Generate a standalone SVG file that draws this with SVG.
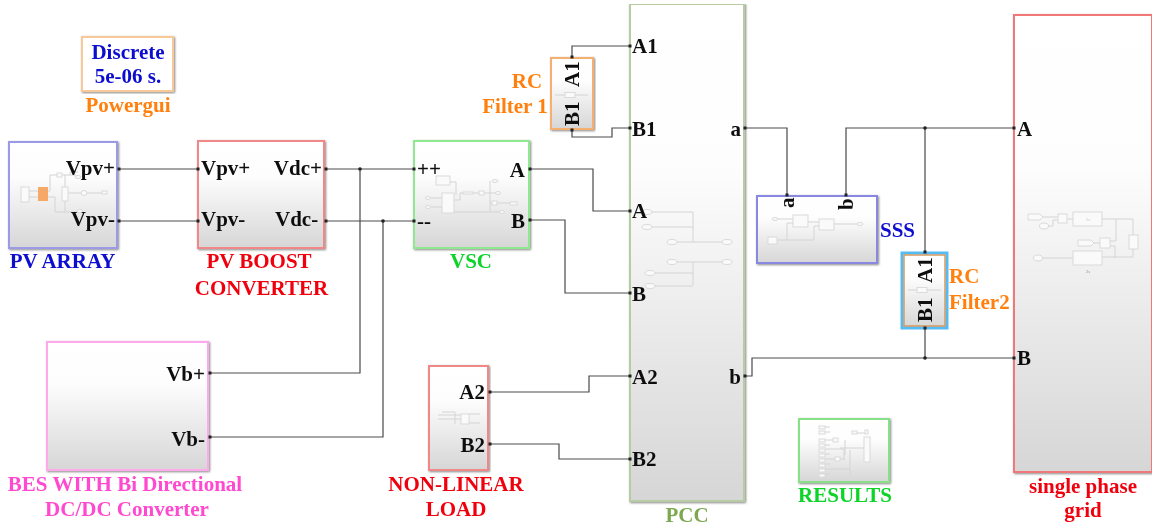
<svg xmlns="http://www.w3.org/2000/svg" width="1157" height="530" viewBox="0 0 1157 530">
<style>
text{font-family:"Liberation Serif","Times New Roman",serif;font-weight:700;font-size:21px}
.p{fill:#111}
.m{text-anchor:middle}
.e{text-anchor:end}
.b{fill:url(#g);stroke-width:2;filter:url(#s)}
.c{fill:none;stroke:#4a4a4a;stroke-width:1.2;marker-start:url(#port);marker-end:url(#port)}
.ic{fill:#fafafa;stroke:#dadada;stroke-width:1}
.il{fill:none;stroke:#d4d4d4;stroke-width:1}
.blue{fill:#0a0ad0}.red{fill:#f00010}.green{fill:#08d428}.orange{fill:#ff8010}.pink{fill:#ff48d0}
</style>
<defs>
<linearGradient id="g" x1="0" y1="0" x2="0" y2="1"><stop offset="0" stop-color="#fff"/><stop offset=".33" stop-color="#fdfdfd"/><stop offset="1" stop-color="#d6d6d6"/></linearGradient>
<filter id="s" x="-5%" y="-5%" width="110%" height="110%"><feDropShadow dx="1" dy="1" stdDeviation=".8" flood-color="#555" flood-opacity=".7"/></filter>
<filter id="soft" x="0" y="0" width="100%" height="100%"><feGaussianBlur stdDeviation=".35"/></filter>
<marker id="port" markerUnits="userSpaceOnUse" markerWidth="5" markerHeight="5" refX="2.5" refY="2.5"><rect width="3" height="3" x="1" y="1" fill="#222"/></marker>
</defs>
<rect width="1157" height="530" fill="#fff"/>
<g filter="url(#soft)">
<g id="powergui">
<rect x="82" y="37" width="91" height="54" fill="#fff" stroke="#f8c898" stroke-width="2" filter="url(#s)"/>
<text class="m blue" x="128" y="59">Discrete</text>
<text class="m blue" x="128" y="83">5e-06 s.</text>
<text class="m orange" x="128" y="112">Powergui</text>
</g>
<g id="pv-array">
<rect class="b" x="9" y="142" width="108" height="106" stroke="#9a9ae8"/>
<rect class="ic" x="21" y="187" width="8" height="15"/>
<path class="il" d="M29 191H38M29 197H38M48 191H50V175H57M62 175H76M48 197H55V212H82M65 175V212M68 193H82M87 193H102M70 175V172H78"/>
<rect x="38" y="187" width="10" height="14" fill="#f6a868"/>
<rect class="ic" x="57" y="173" width="5" height="4"/>
<rect class="ic" x="62" y="187" width="6" height="14"/>
<ellipse class="ic" cx="84" cy="193" rx="3" ry="2.5"/>
<rect class="ic" x="102" y="191" width="5" height="3"/>
<ellipse class="ic" cx="78" cy="177" rx="3" ry="1.5"/>
<ellipse class="ic" cx="80" cy="211" rx="3" ry="1.5"/>
<text class="p e" x="115" y="175">Vpv+</text>
<text class="p e" x="115" y="226">Vpv-</text>
<text class="m blue" x="62.500" y="268">PV ARRAY</text>
</g>
<g id="pv-boost-converter">
<rect class="b" x="198" y="141" width="126" height="107" stroke="#f08888"/>
<text class="p" x="201" y="175">Vpv+</text>
<text class="p" x="201" y="226">Vpv-</text>
<text class="p e" x="322" y="175">Vdc+</text>
<text class="p" x="275" y="226">Vdc-</text>
<text class="m red" x="259" y="268">PV BOOST</text>
<text class="m red" x="261.500" y="295">CONVERTER</text>
</g>
<g id="vsc">
<rect class="b" x="414" y="141" width="115" height="107" stroke="#90e890"/>
<rect class="ic" x="436" y="176" width="14" height="9"/>
<rect class="ic" x="442" y="193" width="12" height="20"/>
<path class="il" d="M431 198H442M431 207H442M450 182H456V195M454 200H460V193H463M473 193H479M484 193H497M490 181V212M454 212H500M490 203H492M497 203H510"/>
<ellipse class="ic" cx="428" cy="198" rx="2.500" ry="1.500"/>
<ellipse class="ic" cx="428" cy="207" rx="2.500" ry="1.500"/>
<rect class="ic" x="463" y="192" width="10" height="2"/>
<rect class="ic" x="479" y="191" width="5" height="4"/>
<ellipse class="ic" cx="495" cy="181" rx="3" ry="1.500"/>
<ellipse class="ic" cx="498" cy="193" rx="2.500" ry="1.500"/>
<rect class="ic" x="492" y="201" width="5" height="4"/>
<rect class="ic" x="510" y="202" width="7" height="3"/>
<ellipse class="ic" cx="502" cy="212" rx="2.500" ry="1.500"/>
<text class="p" x="417" y="176">++</text>
<text class="p" x="417" y="228">--</text>
<text class="p e" x="525" y="177">A</text>
<text class="p e" x="525" y="228">B</text>
<text class="m green" x="471" y="268">VSC</text>
</g>
<g id="rc-filter-1">
<rect class="b" x="551" y="58" width="42" height="71" stroke="#f5b070"/>
<path class="il" d="M555 95H565M575 95H588"/>
<rect class="ic" x="565" y="92.500" width="10" height="5"/>
<text class="p" transform="translate(579 87) rotate(-90)">A1</text>
<text class="p" transform="translate(579 126) rotate(-90)">B1</text>
<text class="m orange" x="527" y="88">RC</text>
<text class="m orange" x="515" y="113">Filter 1</text>
</g>
<g id="pcc">
<rect class="b" x="630" y="4" width="114" height="497" stroke="#b8cca4"/>
<path class="il" d="M651 212H693V242M652 227H693M677 242H723M677 262H723M693 262V285M654 273H693M654 286H693"/>
<ellipse class="ic" cx="647" cy="212" rx="5" ry="2.500"/>
<ellipse class="ic" cx="647" cy="227" rx="5" ry="2.500"/>
<ellipse class="ic" cx="672" cy="242" rx="5" ry="2.500"/>
<ellipse class="ic" cx="727" cy="242" rx="5" ry="2.500"/>
<ellipse class="ic" cx="672" cy="262" rx="5" ry="2.500"/>
<ellipse class="ic" cx="727" cy="262" rx="5" ry="2.500"/>
<ellipse class="ic" cx="650" cy="273" rx="5" ry="2.500"/>
<ellipse class="ic" cx="650" cy="286" rx="5" ry="2.500"/>
<text class="p" x="632" y="53">A1</text>
<text class="p" x="632" y="136">B1</text>
<text class="p" x="632" y="218">A</text>
<text class="p" x="632" y="301">B</text>
<text class="p" x="632" y="384">A2</text>
<text class="p" x="632" y="466">B2</text>
<text class="p e" x="741" y="136">a</text>
<text class="p e" x="741" y="384">b</text>
<text class="m" x="687" y="522" style="fill:#7da84f">PCC</text>
</g>
<g id="sss">
<rect class="b" x="757" y="196" width="120" height="67" stroke="#8888e0"/>
<path class="il" d="M778 219H793M808 222H819M834 224H857M777 240H814V226H819M787 240V223H793"/>
<ellipse class="ic" cx="775" cy="219" rx="3" ry="1.500"/>
<rect class="ic" x="793" y="215" width="15" height="12"/>
<rect class="ic" x="819" y="219" width="15" height="11"/>
<ellipse class="ic" cx="860" cy="224" rx="3" ry="1.500"/>
<rect class="ic" x="768" y="237" width="9" height="7"/>
<text class="p" transform="translate(794 208) rotate(-90)">a</text>
<text class="p" transform="translate(853 210) rotate(-90)">b</text>
<text class="blue" x="880" y="237">SSS</text>
</g>
<g id="rc-filter-2">
<rect x="902" y="253" width="45" height="75" fill="url(#g)" stroke="#55bbf5" stroke-width="3"/>
<rect x="904" y="255" width="41" height="71" fill="none" stroke="#d29a60" stroke-width="1.500"/>
<path class="il" d="M908 290H917M927 290H941"/>
<rect class="ic" x="917" y="287.500" width="10" height="5"/>
<text class="p" transform="translate(932 283) rotate(-90)">A1</text>
<text class="p" transform="translate(932 322) rotate(-90)">B1</text>
<text class="orange" x="949" y="283">RC</text>
<text class="orange" x="949" y="309">Filter2</text>
</g>
<g id="single-phase-grid">
<rect class="b" x="1014" y="15" width="138" height="457" stroke="#f07878"/>
<path class="il" d="M1043 217H1058M1048 226H1053V220H1058M1067 219H1073M1102 219H1133V235M1133 249V257H1102M1042 258H1073M1094 243H1100M1110 241H1116V219M1110 246H1115V258"/>
<path class="ic" d="M1028 214H1040L1043 217L1040 220H1028Z"/>
<ellipse class="ic" cx="1044" cy="226" rx="4.500" ry="3"/>
<rect class="ic" x="1058" y="214" width="9" height="9"/>
<rect class="ic" x="1073" y="212" width="29" height="14"/>
<rect class="ic" x="1129" y="235" width="9" height="14"/>
<rect class="ic" x="1073" y="251" width="29" height="14"/>
<ellipse class="ic" cx="1038" cy="258" rx="4.500" ry="3"/>
<path class="ic" d="M1078 240H1091L1094 243L1091 246H1078Z"/>
<rect class="ic" x="1100" y="238" width="10" height="10"/>
<text class="m" x="1088" y="221" style="font-size:5px;font-weight:400;fill:#ccc">2s</text>
<text class="m" x="1088" y="273" style="font-size:5px;font-weight:400;fill:#999">2s</text>
<text class="p" x="1017" y="136">A</text>
<text class="p" x="1017" y="365">B</text>
<text class="m red" x="1083" y="493">single phase</text>
<text class="m red" x="1083" y="517">grid</text>
</g>
<g id="bes">
<rect class="b" x="47" y="342" width="161" height="128" stroke="#ffa8ec"/>
<text class="p e" x="205" y="381">Vb+</text>
<text class="p e" x="205" y="446">Vb-</text>
<text class="m pink" x="125" y="491">BES WITH Bi Directional</text>
<text class="m pink" x="127" y="516">DC/DC Converter</text>
</g>
<g id="non-linear-load">
<rect class="b" x="429" y="366" width="59" height="104" stroke="#f08888"/>
<path class="il" d="M438 415H461M438 419H461M442 412H455V424M469 414H480M469 423H480"/>
<rect class="ic" x="461" y="414" width="8" height="10"/>
<text class="p e" x="485" y="399">A2</text>
<text class="p e" x="485" y="452">B2</text>
<text class="m red" x="456" y="491">NON-LINEAR</text>
<text class="m red" x="456" y="516">LOAD</text>
</g>
<g id="results">
<rect class="b" x="799" y="419" width="90" height="63" stroke="#88e088"/>
<rect class="ic" x="864" y="437" width="6" height="25"/>
<rect class="ic" x="852" y="431" width="5" height="3"/>
<rect class="ic" x="865" y="430" width="3" height="4"/>
<path class="il" d="M857 433H865M825 427H830M825 432H830M825 440H838M825 445H830M825 449H844V460M825 454H830M825 459H845M825 464H830M825 469H850M850 450V475M840 448H864M825 474H830M845 440V455"/>
<rect class="ic" x="819" y="426" width="6" height="3"/>
<rect class="ic" x="819" y="431" width="6" height="3"/>
<rect class="ic" x="819" y="439" width="6" height="3"/>
<rect class="ic" x="819" y="444" width="6" height="3"/>
<rect class="ic" x="819" y="449" width="6" height="3"/>
<rect class="ic" x="819" y="454" width="6" height="3"/>
<rect class="ic" x="819" y="459" width="6" height="3"/>
<rect class="ic" x="819" y="464" width="6" height="3"/>
<rect class="ic" x="819" y="469" width="6" height="3"/>
<rect class="ic" x="819" y="474" width="6" height="3"/>
<rect class="ic" x="833" y="438" width="5" height="4"/>
<rect class="ic" x="835" y="457" width="5" height="4"/>
<text class="m green" x="845" y="502">RESULTS</text>
</g>
<g id="connectors">
<path class="c" d="M119 169H198"/>
<path class="c" d="M119 221H198"/>
<path class="c" d="M326 169H414"/>
<path class="c" d="M326 221H414"/>
<path class="c" d="M210 373H360V169" style="marker-end:none"/>
<path class="c" d="M210 437H383V221" style="marker-end:none"/>
<path class="c" d="M530 169H593V211H630"/>
<path class="c" d="M530 220H565V293H630"/>
<path class="c" d="M572 57V46H630"/>
<path class="c" d="M572 130V137H612V128H630"/>
<path class="c" d="M745 128H787V195"/>
<path class="c" d="M846 195V128H1014"/>
<path class="c" d="M925 128V252" style="marker-start:none"/>
<path class="c" d="M925 328V358" style="marker-end:none"/>
<path class="c" d="M745 376H752V358H1014"/>
<path class="c" d="M490 392H589V376H630"/>
<path class="c" d="M490 444H559V459H630"/>
<circle cx="360" cy="169" r="1.800" fill="#222"/>
<circle cx="383" cy="221" r="1.800" fill="#222"/>
<circle cx="925" cy="128" r="1.800" fill="#222"/>
<circle cx="925" cy="358" r="1.800" fill="#222"/>
</g>
</g>
</svg>
